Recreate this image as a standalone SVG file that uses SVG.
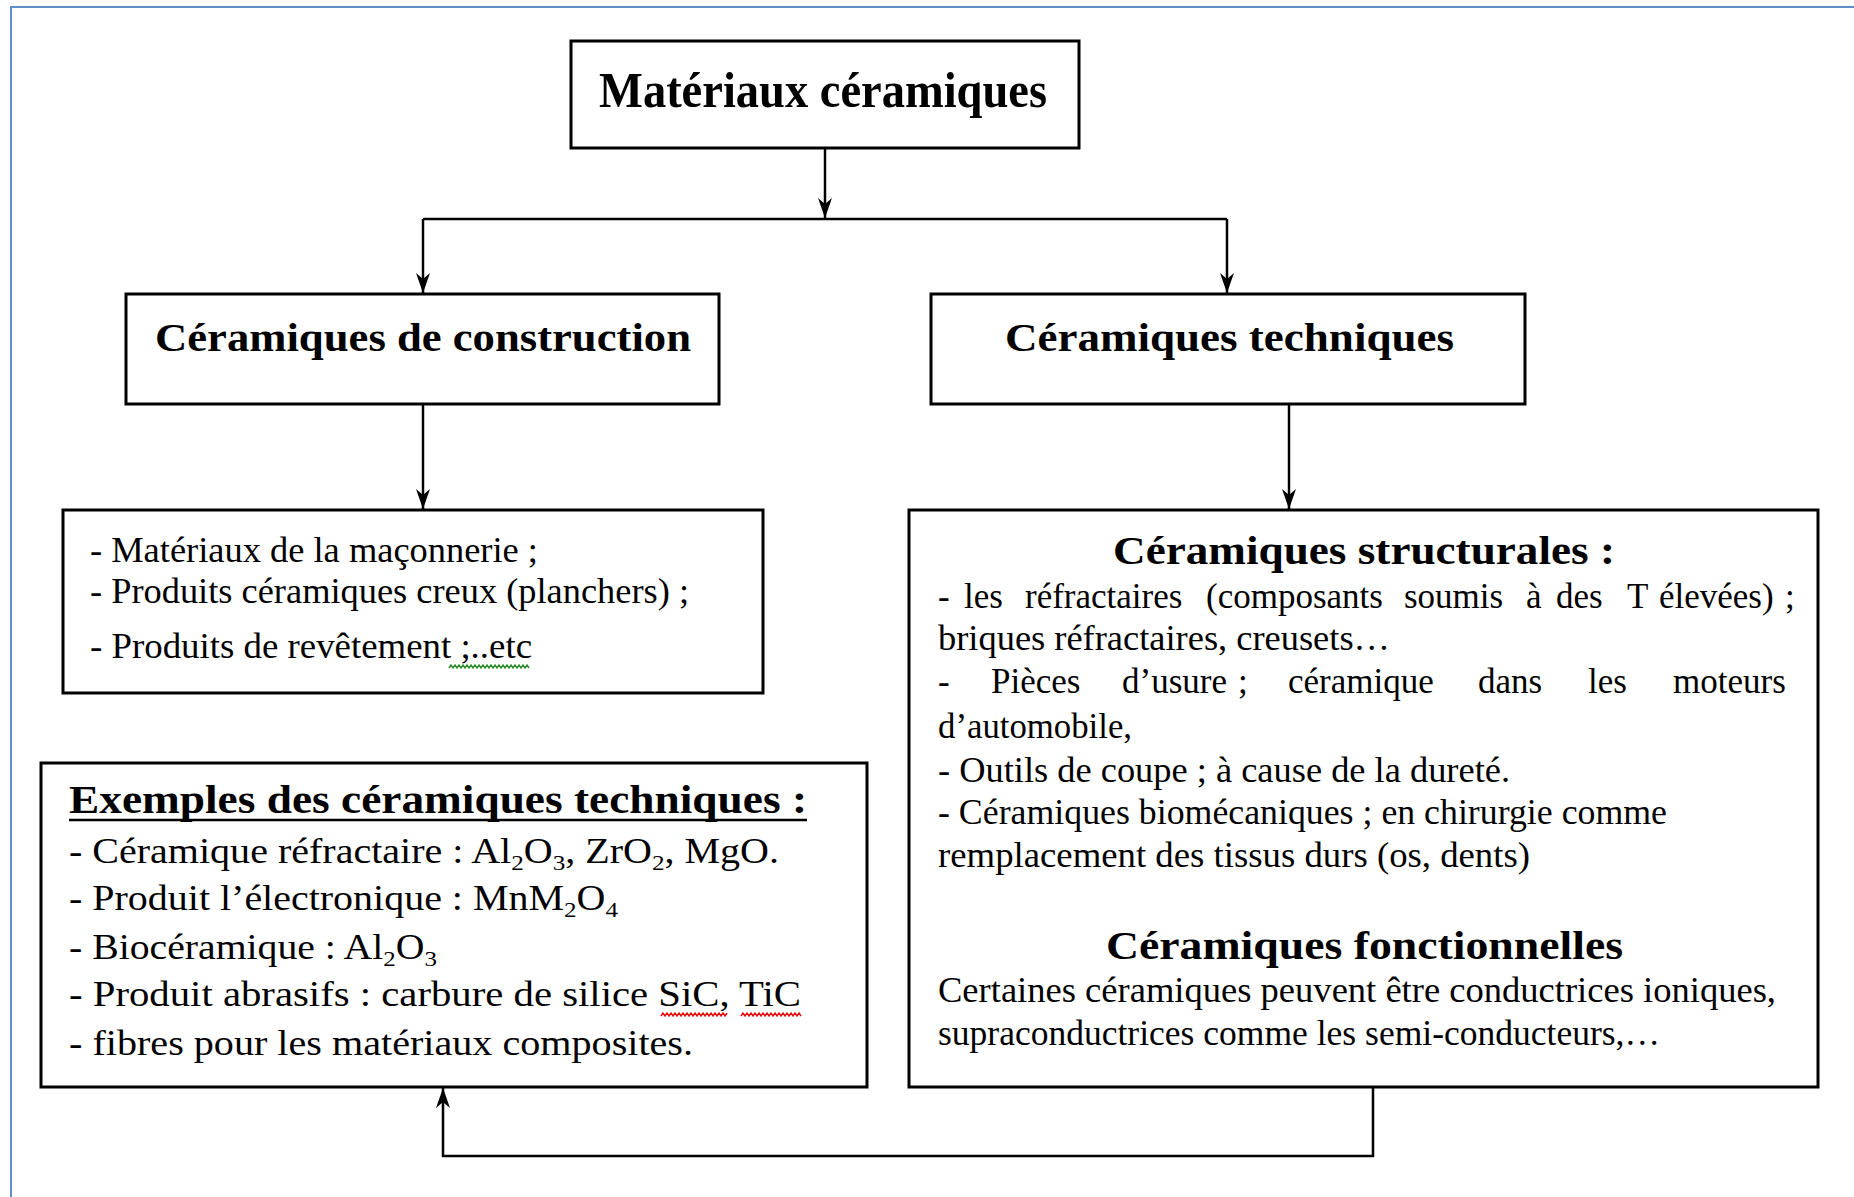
<svg xmlns="http://www.w3.org/2000/svg" width="1854" height="1197" viewBox="0 0 1854 1197">
<style>
.box{fill:#fff;stroke:#000;stroke-width:3}
.t{font-family:"Liberation Serif","Times New Roman",serif;fill:#000}
.b{font-weight:bold}
.h1{font-size:50px}
.h2{font-size:39px}
.body{font-size:35px}
.sub{font-size:22px}
.conn{fill:none;stroke:#000;stroke-width:2.5}
.sq{fill:none;stroke-width:1.5}
</style>
<defs>
<marker id="arr" markerUnits="userSpaceOnUse" viewBox="-22 -9 24 18" markerWidth="24" markerHeight="18" refX="0" refY="0" orient="auto">
<path d="M0,0 L-20,-7 L-14,0 L-20,7 Z" fill="#000"/>
</marker>
</defs>
<rect x="0" y="0" width="1854" height="1197" fill="#fff"/>
<path d="M11,1197 V7 H1854" fill="none" stroke="#5f8fcb" stroke-width="2"/>

<g id="connectors">
<path class="conn" d="M825,149 V218" marker-end="url(#arr)"/>
<path class="conn" d="M423,219 H1227"/>
<path class="conn" d="M423,219 V293" marker-end="url(#arr)"/>
<path class="conn" d="M1227,219 V293" marker-end="url(#arr)"/>
<path class="conn" d="M423,404 V509" marker-end="url(#arr)"/>
<path class="conn" d="M1289,404 V509" marker-end="url(#arr)"/>
<path class="conn" d="M1373,1087 V1156 H443 V1088" stroke-width="3" marker-end="url(#arr)"/>
</g>

<g id="node-materiaux">
<rect class="box" x="571" y="41" width="508" height="107"/>
<text class="t b h1" x="599" y="107" textLength="448" lengthAdjust="spacingAndGlyphs">Matériaux céramiques</text>
</g>

<g id="node-construction">
<rect class="box" x="126" y="294" width="593" height="110"/>
<text class="t b h2" x="155" y="351" textLength="536" lengthAdjust="spacingAndGlyphs">Céramiques de construction</text>
</g>

<g id="node-techniques">
<rect class="box" x="931" y="294" width="594" height="110"/>
<text class="t b h2" x="1005" y="351" textLength="449" lengthAdjust="spacingAndGlyphs">Céramiques techniques</text>
</g>

<g id="node-construction-list">
<rect class="box" x="63" y="510" width="700" height="183"/>
<text class="t body" x="90" y="562" textLength="448" lengthAdjust="spacingAndGlyphs">- Matériaux de la maçonnerie ;</text>
<text class="t body" x="90" y="603" textLength="599" lengthAdjust="spacingAndGlyphs">- Produits céramiques creux (planchers) ;</text>
<text class="t body" x="90" y="658" textLength="442" lengthAdjust="spacingAndGlyphs">- Produits de revêtement ;..etc</text>
<path class="sq" stroke="#2e8b2e" d="M449,668 l2,-3 l2,3 l2,-3 l2,3 l2,-3 l2,3 l2,-3 l2,3 l2,-3 l2,3 l2,-3 l2,3 l2,-3 l2,3 l2,-3 l2,3 l2,-3 l2,3 l2,-3 l2,3 l2,-3 l2,3 l2,-3 l2,3 l2,-3 l2,3 l2,-3 l2,3 l2,-3 l2,3 l2,-3 l2,3 l2,-3 l2,3 l2,-3 l2,3 l2,-3 l2,3 l2,-3 l2,3"/>
</g>

<g id="node-techniques-detail">
<rect class="box" x="909" y="510" width="909" height="577"/>
<text class="t b h2" x="1113" y="564" textLength="502" lengthAdjust="spacingAndGlyphs">Céramiques structurales :</text>
<text class="t body" y="608"><tspan x="938">-</tspan><tspan x="964">les</tspan><tspan x="1025">réfractaires</tspan><tspan x="1206">(composants</tspan><tspan x="1404">soumis</tspan><tspan x="1526">à</tspan><tspan x="1556">des</tspan><tspan x="1627">T</tspan><tspan x="1659">élevées)</tspan><tspan x="1785">;</tspan></text>
<text class="t body" x="938" y="650" textLength="452" lengthAdjust="spacingAndGlyphs">briques réfractaires, creusets…</text>
<text class="t body" y="693"><tspan x="938">-</tspan><tspan x="991">Pièces</tspan><tspan x="1122">d’usure</tspan><tspan x="1238">;</tspan><tspan x="1288">céramique</tspan><tspan x="1478">dans</tspan><tspan x="1588">les</tspan><tspan x="1673">moteurs</tspan></text>
<text class="t body" x="938" y="738" textLength="194" lengthAdjust="spacingAndGlyphs">d’automobile,</text>
<text class="t body" x="938" y="782" textLength="572" lengthAdjust="spacingAndGlyphs">- Outils de coupe ; à cause de la dureté.</text>
<text class="t body" x="938" y="824" textLength="729" lengthAdjust="spacingAndGlyphs">- Céramiques biomécaniques ; en chirurgie comme</text>
<text class="t body" x="938" y="867" textLength="592" lengthAdjust="spacingAndGlyphs">remplacement des tissus durs (os, dents)</text>
<text class="t b h2" x="1106" y="959" textLength="517" lengthAdjust="spacingAndGlyphs">Céramiques fonctionnelles</text>
<text class="t body" x="938" y="1002" textLength="838" lengthAdjust="spacingAndGlyphs">Certaines céramiques peuvent être conductrices ioniques,</text>
<text class="t body" x="938" y="1045" textLength="722" lengthAdjust="spacingAndGlyphs">supraconductrices comme les semi-conducteurs,…</text>
</g>

<g id="node-exemples">
<rect class="box" x="41" y="763" width="826" height="324"/>
<text class="t b h2" x="69" y="813" textLength="738" lengthAdjust="spacingAndGlyphs">Exemples des céramiques techniques :</text>
<line x1="69" y1="820" x2="807" y2="820" stroke="#000" stroke-width="2.5"/>
<text class="t body" x="69" y="863" textLength="710" lengthAdjust="spacingAndGlyphs">- Céramique réfractaire : Al<tspan class="sub" dy="7">2</tspan><tspan dy="-7">O</tspan><tspan class="sub" dy="7">3</tspan><tspan dy="-7">, ZrO</tspan><tspan class="sub" dy="7">2</tspan><tspan dy="-7">, MgO.</tspan></text>
<text class="t body" x="69" y="910" textLength="549" lengthAdjust="spacingAndGlyphs">- Produit l’électronique : MnM<tspan class="sub" dy="7">2</tspan><tspan dy="-7">O</tspan><tspan class="sub" dy="7">4</tspan></text>
<text class="t body" x="69" y="959" textLength="368" lengthAdjust="spacingAndGlyphs">- Biocéramique : Al<tspan class="sub" dy="7">2</tspan><tspan dy="-7">O</tspan><tspan class="sub" dy="7">3</tspan></text>
<text class="t body" x="69" y="1006" textLength="732" lengthAdjust="spacingAndGlyphs">- Produit abrasifs : carbure de silice SiC, TiC</text>
<text class="t body" x="69" y="1055" textLength="624" lengthAdjust="spacingAndGlyphs">- fibres pour les matériaux composites.</text>
<path class="sq" stroke="#e01010" d="M661,1016 l2,-3 l2,3 l2,-3 l2,3 l2,-3 l2,3 l2,-3 l2,3 l2,-3 l2,3 l2,-3 l2,3 l2,-3 l2,3 l2,-3 l2,3 l2,-3 l2,3 l2,-3 l2,3 l2,-3 l2,3 l2,-3 l2,3 l2,-3 l2,3 l2,-3 l2,3 l2,-3 l2,3 l2,-3 l2,3 l2,-3"/>
<path class="sq" stroke="#e01010" d="M741,1016 l2,-3 l2,3 l2,-3 l2,3 l2,-3 l2,3 l2,-3 l2,3 l2,-3 l2,3 l2,-3 l2,3 l2,-3 l2,3 l2,-3 l2,3 l2,-3 l2,3 l2,-3 l2,3 l2,-3 l2,3 l2,-3 l2,3 l2,-3 l2,3 l2,-3 l2,3 l2,-3 l2,3"/>
</g>
</svg>
